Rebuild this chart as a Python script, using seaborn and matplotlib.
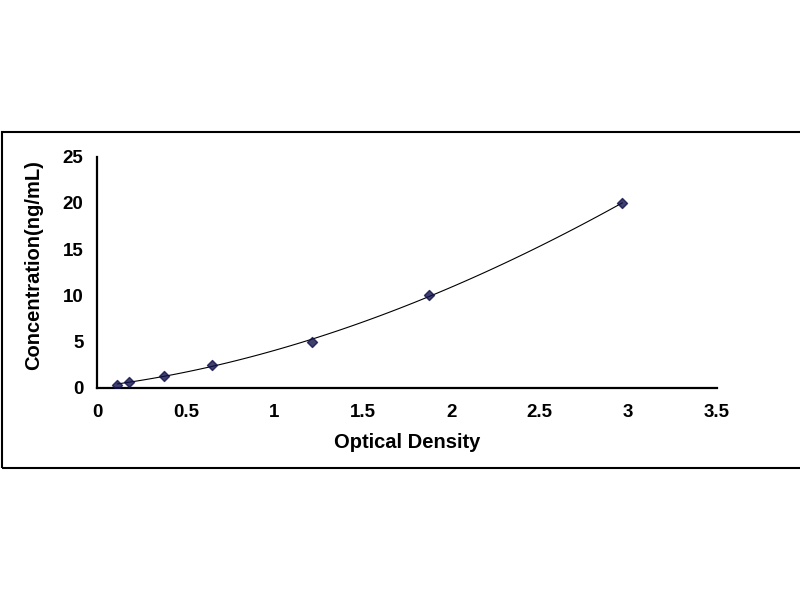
import matplotlib
matplotlib.use("Agg")
import matplotlib.pyplot as plt
import seaborn as sns
import pandas as pd

# standard curve readings
od = [0.113, 0.179, 0.377, 0.646, 1.214, 1.875, 2.967]
conc = [0.312, 0.625, 1.25, 2.5, 5, 10, 20]
xticks = [0, 0.5, 1, 1.5, 2, 2.5, 3, 3.5]
yticks = [0, 5, 10, 15, 20, 25]

df = pd.DataFrame({"Optical Density": od, "Concentration": conc})

sns.set_style("white")
plt.rcParams['font.family'] = ['Liberation Sans', 'DejaVu Sans']
plt.rcParams['text.color'] = 'black'
plt.rcParams['axes.labelcolor'] = 'black'

fig = plt.figure(figsize=(8, 6), dpi=100)
ax = fig.add_axes([0.1216, 0.3538, 0.7744, 0.385])

# outer frame around the chart
frame = plt.Rectangle((0.003, 0.2205), 1.2, 0.56, transform=fig.transFigure,
                      fill=False, edgecolor='black', linewidth=1.5)
fig.patches.append(frame)

sns.regplot(data=df, x="Optical Density", y="Concentration", order=3, ci=None,
            marker='D', truncate=True, ax=ax,
            scatter_kws={'s': 26, 'color': '#10104a', 'edgecolor': '#10104a',
                         'zorder': 3},
            line_kws={'color': 'black', 'linewidth': 0.8})

ax.set_xlim(0, 3.5)
ax.set_ylim(0, 25)
ax.set_xticks(xticks)
ax.set_xticklabels([f"{t:g}" for t in xticks])
ax.set_yticks(yticks)
sns.despine(ax=ax)
for s in ['left', 'bottom']:
    ax.spines[s].set_color('black')
    ax.spines[s].set_linewidth(1.6)

ax.tick_params(axis='x', direction='in', length=6, width=1.5, pad=12,
               labelsize=13.5, colors='black')
ax.tick_params(axis='y', direction='in', length=3.5, width=1.5, pad=10,
               labelsize=13.5, colors='black')
for lbl in ax.get_xticklabels() + ax.get_yticklabels():
    lbl.set_fontweight('bold')

ax.set_xlabel("Optical Density", fontsize=14.5, fontweight='bold', color='black')
ax.set_ylabel("Concentration(ng/mL)", fontsize=14.5, fontweight='bold', color='black')
ax.xaxis.set_label_coords(0.5, -0.195)
ax.yaxis.set_label_coords(-0.087, 0.53)

fig.savefig("out.png", dpi=100)
